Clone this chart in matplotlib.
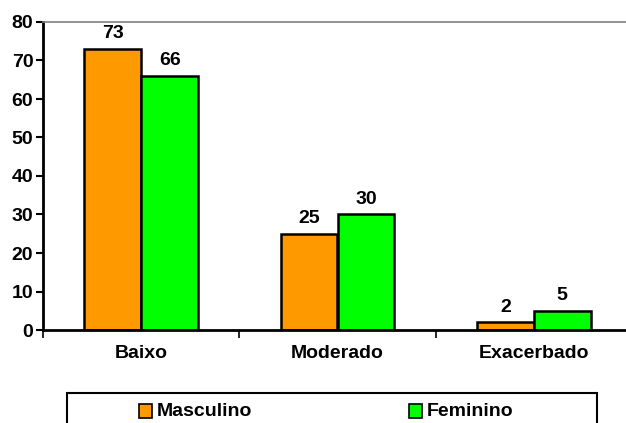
import numpy as np
import matplotlib.pyplot as plt
from matplotlib.patches import Rectangle

################ Data ################

categorias = ['Baixo', 'Moderado', 'Exacerbado']
masculino = [73, 25, 2]
feminino = [66, 30, 5]
series = ['Masculino', 'Feminino']
cores = ['#FF9900', '#00FF00']

plt.rcParams['font.family'] = ['Liberation Sans', 'DejaVu Sans']
plt.rcParams['font.weight'] = 'bold'
fs = 14

################ Figure ################

W, H = 626, 423
fig = plt.figure(figsize=(W / 100, H / 100), dpi=100)
ax = fig.add_axes([43 / W, (H - 330) / H, (632 - 43) / W, (330 - 22) / H])

x = np.arange(len(categorias))
w = 0.29
b1 = ax.bar(x - w / 2, masculino, w, color=cores[0], edgecolor='black', linewidth=1.8)
b2 = ax.bar(x + w / 2, feminino, w, color=cores[1], edgecolor='black', linewidth=1.8)

for bars, vals in ((b1, masculino), (b2, feminino)):
    for r, v in zip(bars, vals):
        ax.text(r.get_x() + r.get_width() / 2, v + 1.7, str(v),
                ha='center', va='bottom', fontsize=fs, fontweight='bold')

ax.set_xlim(-0.5, 2.5)
ax.set_ylim(0, 80)
ax.set_yticks(range(0, 81, 10))
ax.tick_params(axis='y', labelsize=fs, length=5, width=1.5, direction='out', pad=2)

ax.set_xticks([-0.5, 0.5, 1.5, 2.5])
ax.set_xticklabels([])
ax.set_xticks(x, minor=True)
ax.set_xticklabels(categorias, minor=True)
ax.tick_params(axis='x', which='major', length=6, width=1.2, direction='out')
ax.tick_params(axis='x', which='minor', length=0, labelsize=fs, pad=11)

for s in ('left', 'bottom'):
    ax.spines[s].set_linewidth(2)
    ax.spines[s].set_color('black')
ax.spines['top'].set_color('#808080')
ax.spines['top'].set_linewidth(1.2)
ax.spines['right'].set_visible(False)

################ Legend (box runs off the bottom) ################

def fx(px):
    return px / W

def fy(py):
    return 1 - py / H

fig.patches.append(Rectangle((fx(67), fy(440)), fx(597) - fx(67), fy(393) - fy(440),
                             transform=fig.transFigure, facecolor='white',
                             edgecolor='black', linewidth=1.5))
for nome, cor, sx in zip(series, cores, (139, 409)):
    fig.patches.append(Rectangle((fx(sx), fy(418)), fx(13), fy(404) - fy(418),
                                 transform=fig.transFigure, facecolor=cor,
                                 edgecolor='black', linewidth=1.2))
    fig.text(fx(sx + 18), fy(411), nome, fontsize=fs, fontweight='bold',
             ha='left', va='center')

fig.savefig('out.png', dpi=100)
